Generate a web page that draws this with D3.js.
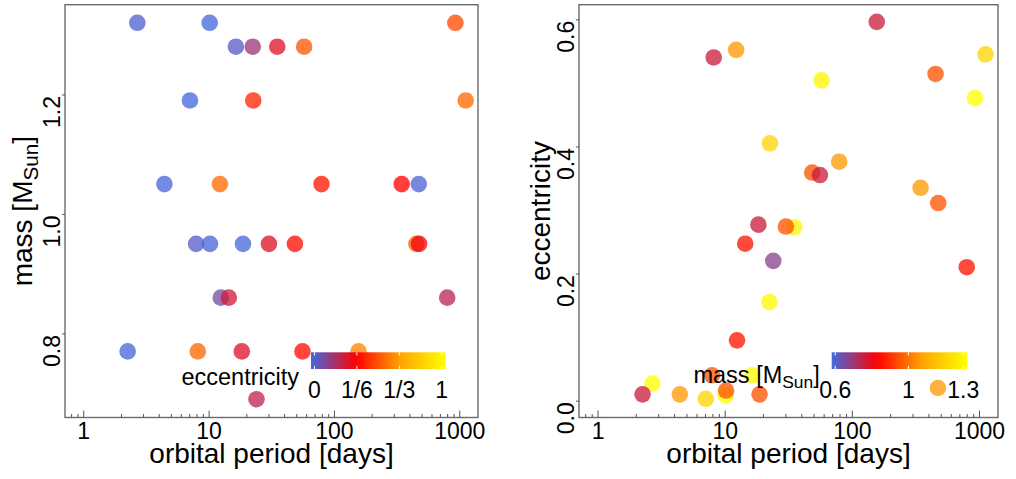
<!DOCTYPE html>
<html>
<head>
<meta charset="utf-8">
<script src="https://cdn.jsdelivr.net/npm/d3@7"></script>
<style>
  body { margin: 0; background: #fff; }
  svg { display: block; font-family: "Liberation Sans", Arial, sans-serif; }
</style>
</head>
<body>
<svg width="1016" height="479"></svg>
<script>
// planets: orbital period (days), host star mass (M_sun), eccentricity
const period = [2.70, 10.2, 930, 16.5, 22.5, 35.3, 57.8, 7.1, 22.7, 1125,
                4.44, 12.3, 79.5, 347, 475, 7.95, 10.25, 18.8, 30.3, 48.8,
                455, 478, 12.5, 14.5, 801, 2.26, 8.2, 18.4, 56.1, 157, 24.1];
const mass   = [1.32, 1.32, 1.32, 1.28, 1.28, 1.28, 1.28, 1.19, 1.19, 1.19,
                1.05, 1.05, 1.05, 1.05, 1.05, 0.95, 0.95, 0.95, 0.95, 0.95,
                0.95, 0.95, 0.86, 0.86, 0.86, 0.77, 0.77, 0.77, 0.77, 0.77, 0.69];
const ecc    = [0.027, 0.008, 0.476, 0.040, 0.155, 0.273, 0.504, 0.003, 0.405, 0.545,
                0.010, 0.552, 0.376, 0.335, 0.020, 0.040, 0.016, 0.010, 0.274, 0.359,
                0.514, 0.311, 0.095, 0.247, 0.210, 0.010, 0.540, 0.277, 0.355, 0.596, 0.220];

const xTicks = [1, 10, 100, 1000];
const massTicks = [0.8, 1.0, 1.2];
const eccTicks = [0, 0.2, 0.4, 0.6];
const eccLegendTicks = [0, 1/3, 2/3, 1];
const eccLegendLabels = ["0", "1/6", "1/3", "1"];
const massLegendTicks = [0.6, 1, 1.3];
const massLegendLabels = ["0.6", "1", "1.3"];

const svg = d3.select("svg");
const rows = d3.range(period.length).map(i => ({p: period[i], m: mass[i], e: ecc[i]}));

// blue -> red -> orange -> yellow ramp on [0,1]
const ramp = d3.scaleLinear()
    .domain([0, 1/3, 2/3, 1])
    .range(["royalblue", "red", "orange", "yellow"])
    .clamp(true);
const massT = d3.scaleLinear().domain([0.6, 1.3]).range([0, 1]);

const plotTop = 4.7, plotBottom = 417.5;
const minorTicks = [0.8, 0.9].concat(
  d3.range(2, 10), d3.range(20, 100, 10), d3.range(200, 1000, 100));

function massTitle(t, fs) {
  t.append("tspan").text("mass [M");
  t.append("tspan").attr("font-size", fs * 0.74).attr("dy", fs * 0.2).text("Sun");
  t.append("tspan").attr("dy", -fs * 0.2).text("]");
}
function eccTitle(t) {
  t.text("eccentricity");
}

function panel(o) {
  const x = d3.scaleLog().domain([0.715, 1410]).range([o.left, o.right]);
  const y = d3.scaleLinear().domain(o.yDomain).range([plotBottom, plotTop]);
  const g = svg.append("g");

  // points
  g.append("g").selectAll("circle")
    .data(rows)
    .join("circle")
      .attr("cx", d => x(d.p))
      .attr("cy", d => y(o.yVal(d)))
      .attr("r", 8.3)
      .attr("fill", o.color)
      .attr("fill-opacity", 0.76);

  // frame
  g.append("rect")
    .attr("x", o.left).attr("y", plotTop)
    .attr("width", o.right - o.left).attr("height", plotBottom - plotTop)
    .attr("fill", "none").attr("stroke", "#6b6b6b").attr("stroke-width", 1.4);

  // x axis: ticks point inward
  const xa = g.append("g").attr("transform", `translate(0,${plotBottom})`)
    .call(d3.axisBottom(x).tickValues(xTicks).tickFormat(d3.format("d"))
      .tickSize(-7).tickPadding(5));
  xa.select(".domain").remove();
  xa.selectAll("text").attr("font-size", 23).attr("fill", "#000");
  g.append("g").attr("transform", `translate(0,${plotBottom})`)
    .call(d3.axisBottom(x).tickValues(minorTicks).tickSize(-3.5))
    .call(a => a.select(".domain").remove())
    .call(a => a.selectAll("text").remove());

  // y axis with rotated labels
  const ya = g.append("g").attr("transform", `translate(${o.left},0)`)
    .call(d3.axisLeft(y).tickValues(o.yTicks).tickFormat(d3.format(".1f")).tickSize(3));
  ya.select(".domain").remove();
  ya.selectAll("text")
    .attr("transform", "rotate(-90)")
    .attr("x", -1).attr("y", -5).attr("dy", 0)
    .attr("text-anchor", "end")
    .attr("font-size", 23).attr("fill", "#000");
  g.selectAll(".tick line").attr("stroke", "#555");

  // axis titles
  g.append("text")
    .attr("x", (o.left + o.right) / 2).attr("y", 463)
    .attr("text-anchor", "middle").attr("font-size", 28)
    .text("orbital period [days]");
  const yt = g.append("text")
    .attr("transform", `translate(${o.titleX},${(plotTop + plotBottom) / 2}) rotate(-90)`)
    .attr("text-anchor", "middle").attr("font-size", 28);
  o.yTitle(yt, 28);

  // colour bar legend
  const lg = o.legend;
  const gid = "grad" + o.id;
  const grad = svg.append("defs").append("linearGradient").attr("id", gid);
  grad.selectAll("stop").data(d3.range(0, 1.0001, 0.05)).join("stop")
    .attr("offset", d => d).attr("stop-color", d => ramp(d));
  g.append("rect")
    .attr("x", lg.x0).attr("y", 352.3)
    .attr("width", lg.x1 - lg.x0).attr("height", 16.7)
    .attr("fill", `url(#${gid})`);
  const ls = d3.scaleLinear().domain(lg.domain).range([lg.x0 + 3.5, lg.x1 - 4]);
  lg.ticks.forEach((t, i) => {
    const tx = ls(t);
    g.append("line").attr("x1", tx).attr("x2", tx).attr("y1", 352.3).attr("y2", 355.5)
      .attr("stroke", "#fff").attr("stroke-width", 1);
    g.append("line").attr("x1", tx).attr("x2", tx).attr("y1", 365.8).attr("y2", 369)
      .attr("stroke", "#fff").attr("stroke-width", 1);
    g.append("text").attr("x", tx).attr("y", 397.5)
      .attr("text-anchor", "middle").attr("font-size", 23)
      .text(lg.labels[i]);
  });
  const lt = g.append("text")
    .attr("x", lg.x0 - 12).attr("y", lg.titleY)
    .attr("text-anchor", "end").attr("font-size", 23.5);
  lg.title(lt, 23.5);
}

// left: mass vs period, coloured by eccentricity
panel({
  id: "L", left: 65, right: 478, titleX: 32,
  yDomain: [0.6594, 1.3503], yTicks: massTicks,
  yVal: d => d.m, color: d => ramp(d.e),
  yTitle: massTitle,
  legend: {x0: 311, x1: 445.7, domain: [0, 1], ticks: eccLegendTicks,
           labels: eccLegendLabels, titleY: 385, title: eccTitle}
});

// right: eccentricity vs period, coloured by mass
panel({
  id: "R", left: 579, right: 998, titleX: 550,
  yDomain: [-0.0264, 0.623], yTicks: eccTicks,
  yVal: d => d.e, color: d => ramp(massT(d.m)),
  yTitle: eccTitle,
  legend: {x0: 831.7, x1: 967.3, domain: [0.6, 1.3], ticks: massLegendTicks,
           labels: massLegendLabels, titleY: 383.3, title: massTitle}
});
</script>
</body>
</html>
